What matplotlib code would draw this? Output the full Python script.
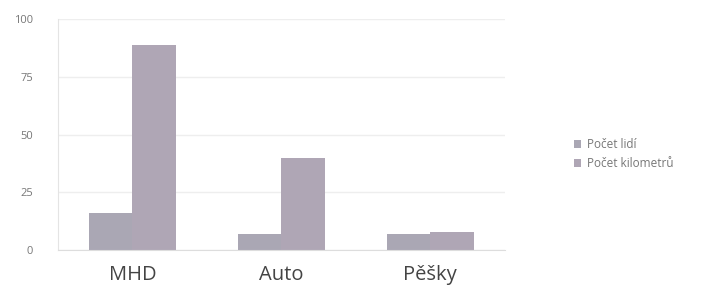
import matplotlib.pyplot as plt
import numpy as np

plt.rcParams['font.family'] = ['Open Sans', 'DejaVu Sans']

categories = ["MHD", "Auto", "Pěšky"]
pocetLidi = [16, 7, 7]
pocetKm = [89, 40, 8]
yTicks = [0, 25, 50, 75, 100]

fig = plt.figure(figsize=(7.14, 2.95), dpi=100)
ax = fig.add_axes([0.081, 0.1525, 0.626, 0.7815])

x = np.arange(len(categories))
w = 0.29
ax.bar(x - w / 2, pocetLidi, w, color="#aaa7b4", label="Počet lidí", zorder=2)
ax.bar(x + w / 2, pocetKm, w, color="#afa6b5", label="Počet kilometrů", zorder=2)

ax.set_xlim(-0.5, len(categories) - 0.5)
ax.set_ylim(0, 100)
ax.set_yticks(yTicks)
ax.set_yticklabels([str(t) for t in yTicks], fontsize=8, color="#777777")
ax.set_xticks(x)
ax.set_xticklabels(categories, fontsize=14.5, color="#444444")
ax.tick_params(axis='y', length=0, pad=18)
ax.tick_params(axis='x', length=0, pad=11)
ax.grid(axis='y', color="#eeeeee", linewidth=1, zorder=0)
for s in ["top", "right"]:
    ax.spines[s].set_visible(False)
ax.spines["left"].set_color("#e4e4e4")
ax.spines["bottom"].set_color("#dddddd")

ax.legend(loc='center left', bbox_to_anchor=(1.13, 0.415), frameon=False,
          fontsize=8.5, labelcolor="#777777", handlelength=0.6, handleheight=0.6,
          handletextpad=0.5, labelspacing=0.5)

fig.savefig("out.png", dpi=100)
